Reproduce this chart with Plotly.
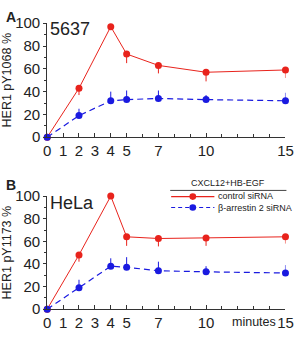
import plotly.graph_objects as go

minutes = [0, 2, 4, 5, 7, 10, 15]
tick_labels = [0, 1, 2, 3, 4, 5, 7, 10, 15]

# Panel A: 5637, HER1 pY1068 %
a_ctrl = [0, 43, 97, 73, 63, 57, 59]
a_ctrl_err = [0, 6, 0, 8, 7, 8, 7]
a_barr = [0, 19, 32, 33, 34, 33, 32]
a_barr_err = [0, 6, 8, 8, 7, 4, 7]

# Panel B: HeLa, HER1 pY1173 %
b_ctrl = [0, 48, 100, 64, 62.5, 63, 64]
b_ctrl_err = [0, 6, 0, 8, 7, 7, 6]
b_barr = [0, 19, 38, 37, 34, 33, 32]
b_barr_err = [0, 7, 7, 9, 8, 5, 7]

series_names = ["control siRNA", "β-arrestin 2 siRNA"]
legend_title = "CXCL12+HB-EGF"

RED = "#e8231c"
BLUE = "#1a1ae0"
FONT = "Liberation Sans, Arial, sans-serif"

fig = go.Figure()

def add_panel(ctrl, ctrl_err, barr, barr_err, xa, ya):
    fig.add_trace(go.Scatter(
        x=minutes, y=ctrl, mode="lines+markers", name=series_names[0],
        line=dict(color=RED, width=1), marker=dict(color=RED, size=7),
        error_y=dict(type="data", symmetric=False, array=[0]*len(ctrl),
                     arrayminus=ctrl_err, color=RED, thickness=1, width=0),
        xaxis=xa, yaxis=ya, showlegend=False, cliponaxis=False))
    fig.add_trace(go.Scatter(
        x=minutes, y=barr, mode="lines+markers", name=series_names[1],
        line=dict(color=BLUE, width=1.2, dash="6px,4px"), marker=dict(color=BLUE, size=7),
        error_y=dict(type="data", symmetric=False, array=barr_err,
                     arrayminus=[0]*len(barr), color=BLUE, thickness=1, width=0),
        xaxis=xa, yaxis=ya, showlegend=False, cliponaxis=False))

add_panel(a_ctrl, a_ctrl_err, a_barr, a_barr_err, "x", "y")
add_panel(b_ctrl, b_ctrl_err, b_barr, b_barr_err, "x2", "y2")

W, H = 305, 339
xdom = [45 / W, 293 / W]
ydomA = [1 - 135 / H, 1 - 15 / H]
ydomB = [1 - 316 / H, 1 - 197 / H]

TF = 15
xax = dict(range=[0, 15], tickmode="array", tickvals=tick_labels,
           ticks="inside", ticklen=4, tickcolor="#333", showline=True,
           linecolor="#333", linewidth=1, showgrid=False, zeroline=False,
           tickfont=dict(size=TF, color="#222", family=FONT),
           minor=dict(tickmode="linear", tick0=0, dtick=1, ticks="inside",
                      ticklen=3, tickcolor="#333"))
yax = dict(range=[0, 100], tickmode="array", tickvals=[0, 20, 40, 60, 80, 100],
           ticks="outside", ticklen=3, tickcolor="#333", showline=True,
           linecolor="#333", linewidth=1, showgrid=False, zeroline=False,
           tickfont=dict(size=TF, color="#222", family=FONT),
           minor=dict(tickmode="linear", tick0=0, dtick=10, ticks="outside",
                      ticklen=2, tickcolor="#333"))

fig.update_layout(
    width=W, height=H, margin=dict(l=0, r=0, t=0, b=0),
    paper_bgcolor="white", plot_bgcolor="white",
    font=dict(family=FONT, color="#222"),
    xaxis=dict(xax, domain=xdom, anchor="y"),
    yaxis=dict(yax, domain=ydomA, anchor="x",
               title=dict(text="HER1 pY1068 %", font=dict(size=12.5), standoff=3)),
    xaxis2=dict(xax, domain=xdom, anchor="y2"),
    yaxis2=dict(yax, domain=ydomB, anchor="x2",
                title=dict(text="HER1 pY1173 %", font=dict(size=12.5), standoff=3)),
    showlegend=False,
)

ann = [
    dict(text="<b>A</b>", x=1 / W, y=1 - 8 / H, xanchor="left", yanchor="middle", font=dict(size=14), borderpad=0),
    dict(text="<b>B</b>", x=1 / W, y=1 - 185 / H, xanchor="left", yanchor="middle", font=dict(size=14), borderpad=0),
    dict(text="5637", x=46 / W, y=1 - 21 / H, xanchor="left", yanchor="middle", font=dict(size=18)),
    dict(text="HeLa", x=46 / W, y=1 - 204 / H, xanchor="left", yanchor="middle", font=dict(size=18)),
    dict(text="minutes", x=285 / W, y=0, xanchor="right", yanchor="bottom", font=dict(size=12.5)),
    dict(text=legend_title, x=233 / W, y=1 - 183 / H, xanchor="center", yanchor="middle", font=dict(size=9)),
    dict(text=series_names[0], x=221 / W, y=1 - 197 / H, xanchor="left", yanchor="middle", font=dict(size=9)),
    dict(text=series_names[1], x=221 / W, y=1 - 209 / H, xanchor="left", yanchor="middle", font=dict(size=9)),
]
for a in ann:
    a.update(xref="paper", yref="paper", showarrow=False)
fig.update_layout(annotations=ann)

# legend decorations
def px(x, y):
    return x / W, 1 - y / H

shapes = []
x0, y0 = px(173, 191); x1, _ = px(294, 191)
shapes.append(dict(type="line", x0=x0, x1=x1, y0=y0, y1=y0, line=dict(color="#444", width=1)))
for yy, col, dash in [(197.5, RED, "solid"), (209, BLUE, "4px,3px")]:
    a0, b0 = px(174, yy); a1, _ = px(219, yy)
    shapes.append(dict(type="line", x0=a0, x1=a1, y0=b0, y1=b0,
                       line=dict(color=col, width=1.2, dash=dash)))
    c0, d0 = px(193, yy - 3.5); c1, d1 = px(200, yy + 3.5)
    shapes.append(dict(type="circle", x0=c0, x1=c1, y0=d1, y1=d0,
                       fillcolor=col, line=dict(color=col, width=0)))
for s in shapes:
    s.update(xref="paper", yref="paper")
fig.update_layout(shapes=shapes)

fig.write_html("out.html")
